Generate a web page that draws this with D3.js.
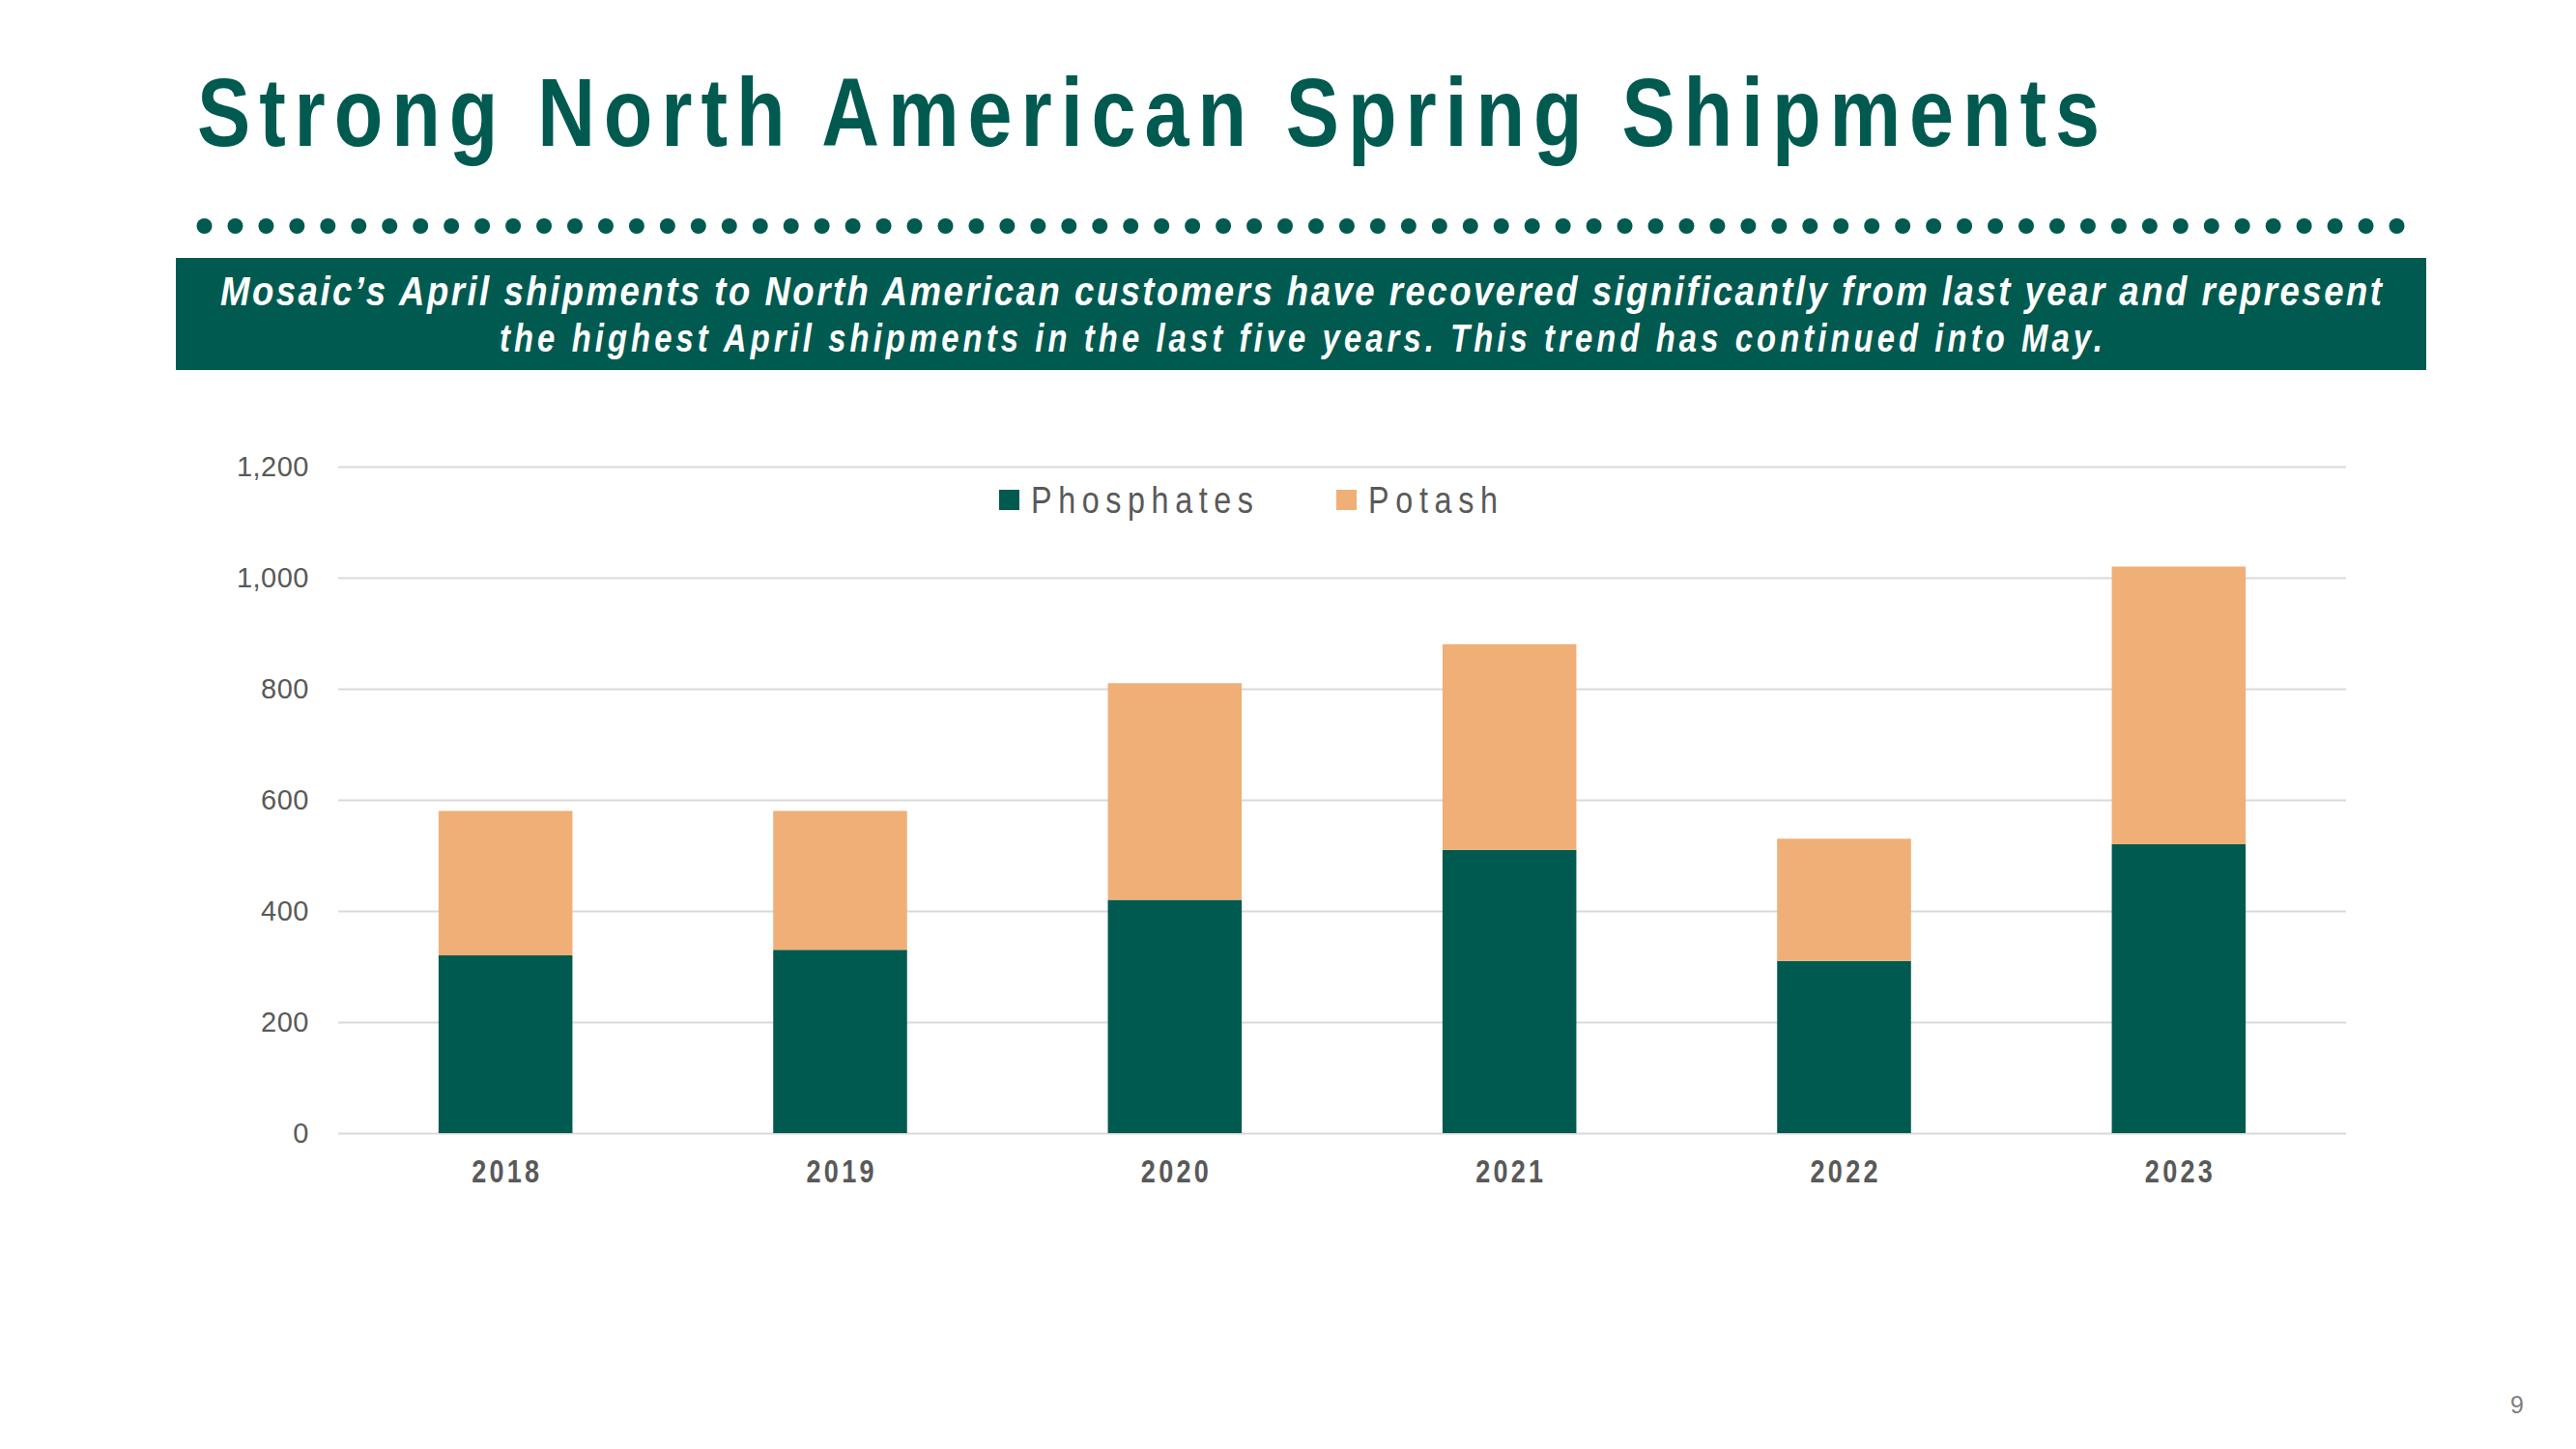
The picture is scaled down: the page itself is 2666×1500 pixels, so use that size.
<!DOCTYPE html>
<html><head><meta charset="utf-8">
<script src="https://cdn.jsdelivr.net/npm/d3@7"></script>
<style>body{margin:0;background:#fff;} svg{display:block}</style>
</head><body><svg id="c" width="2666" height="1500"></svg>
<script>
// ---- data ----
const years = ["2018","2019","2020","2021","2022","2023"];
const phosphates = [320,330,420,510,310,520];
const potash = [260,250,390,370,220,500];
const seriesNames = ["Phosphates","Potash"];
const seriesColors = ["#005A50","#F0AF76"];
const yTicks = [0,200,400,600,800,1000,1200];
const titleText = "Strong North American Spring Shipments";
const bannerLines = [
  "Mosaic\u2019s April shipments to North American customers have recovered significantly from last year and represent",
  "the highest April shipments in the last five years. This trend has continued into May."
];
const pageNumber = "9";

// ---- setup ----
const svg = d3.select("#c");
const teal = "#005A50";
const grey = "#595959";
const NX = 0.82; // narrow font emulation

function narrow(parent, x, y, txt, opts) {
  const sx = opts.sx || NX;
  const g = parent.append("g").attr("transform", `translate(${x},${y}) scale(${sx},1)`);
  const t = g.append("text")
    .attr("x", 0).attr("y", 0)
    .attr("font-family", "'Liberation Sans', Arial, sans-serif")
    .attr("font-size", opts.size)
    .attr("font-weight", opts.weight || "normal")
    .attr("font-style", opts.style || "normal")
    .attr("fill", opts.fill)
    .text(txt);
  if (opts.width) t.attr("textLength", opts.width / sx).attr("lengthAdjust", "spacing");
  return t;
}

// title
narrow(svg, 204, 151, titleText, {size: 101, weight: "bold", fill: teal, width: 1969});

// dotted rule
const nDots = 72;
const dotIdx = d3.range(nDots);
const dotX = d3.scaleLinear().domain([0, nDots - 1]).range([211.5, 2480.5]);
svg.append("g").selectAll("circle").data(dotIdx).join("circle")
  .attr("cx", d => dotX(d)).attr("cy", 234).attr("r", 8).attr("fill", teal);

// banner
svg.append("rect").attr("x", 182).attr("y", 267).attr("width", 2329).attr("height", 116).attr("fill", teal);
const bannerCenter = 182 + 2329 / 2;
const bw = [2237, 1659];
const bb = [316, 364];
const bsx = [0.87, 0.82];
const bsize = [42, 40];
bannerLines.forEach((l, i) => {
  narrow(svg, bannerCenter - bw[i] / 2, bb[i], l, {size: bsize[i], sx: bsx[i], weight: "bold", style: "italic", fill: "#ffffff", width: bw[i]});
});

// ---- chart ----
const pLeft = 350, pRight = 2428, pTop = 483, pBottom = 1173;
const x = d3.scaleBand().domain(years).range([pLeft, pRight]).paddingInner(0.6).paddingOuter(0.3);
const y = d3.scaleLinear().domain([0, 1200]).range([pBottom, pTop]);

// gridlines + y labels
const yAxis = svg.append("g").attr("transform", `translate(${pLeft},0)`)
  .call(d3.axisLeft(y).tickValues(yTicks).tickFormat(d3.format(",")).tickSize(-(pRight - pLeft)).tickPadding(30));
yAxis.select(".domain").remove();
yAxis.selectAll(".tick line").attr("stroke", "#d9d9d9").attr("stroke-width", 2);
yAxis.selectAll(".tick text")
  .attr("font-family", "'Liberation Sans', Arial, sans-serif")
  .attr("font-size", 29).attr("fill", grey).attr("letter-spacing", 0.5);

// stacked bars
const table = years.map((yr, i) => ({year: yr, Phosphates: phosphates[i], Potash: potash[i]}));
const stacked = d3.stack().keys(seriesNames)(table);
svg.append("g").selectAll("g").data(stacked).join("g")
  .attr("fill", (d, i) => seriesColors[i])
  .selectAll("rect").data(d => d).join("rect")
  .attr("x", d => x(d.data.year))
  .attr("width", x.bandwidth())
  .attr("y", d => y(d[1]))
  .attr("height", d => y(d[0]) - y(d[1]));

// x labels
const xAxis = svg.append("g").attr("transform", `translate(0,${pBottom})`)
  .call(d3.axisBottom(x).tickSize(0).tickPadding(0));
xAxis.select(".domain").remove();
xAxis.selectAll(".tick text")
  .attr("y", 51).attr("dy", null)
  .attr("transform", `scale(${NX},1)`)
  .attr("font-family", "'Liberation Sans', Arial, sans-serif")
  .attr("font-size", 33).attr("font-weight", "bold").attr("fill", grey)
  .attr("textLength", 70 / NX).attr("lengthAdjust", "spacing");

// legend
const legendSq = [1034, 1383];
const legendTx = [1067, 1416];
const legendW = [230, 134];
seriesNames.forEach((n, i) => {
  svg.append("rect").attr("x", legendSq[i]).attr("y", 507).attr("width", 21).attr("height", 21).attr("fill", seriesColors[i]);
  narrow(svg, legendTx[i], 531, n, {size: 38, sx: 0.85, fill: grey, width: legendW[i]});
});

// page number
svg.append("text").attr("x", 2605).attr("y", 1463).attr("text-anchor", "middle")
  .attr("font-family", "'Liberation Sans', Arial, sans-serif").attr("font-size", 25).attr("fill", "#7f7f7f")
  .text(pageNumber);
</script></body></html>
